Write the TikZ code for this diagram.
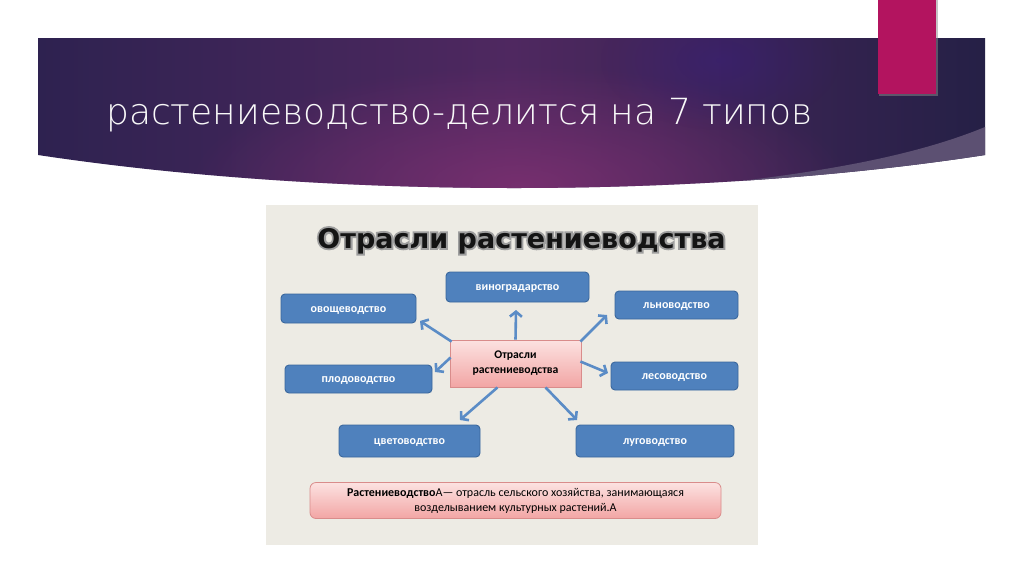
\documentclass[tikz,border=0pt]{standalone}
\usepackage{fontspec}
\setmainfont{Carlito}
\newfontfamily\titlefont{DejaVu Sans ExtraLight}
\newfontfamily\headfont{DejaVu Sans Bold}
\newfontfamily\headglow{DejaVu Sans Bold}[FakeBold=14]
\usetikzlibrary{arrows.meta,fadings,calc}
\tikzfading[name=glowfade, inner color=transparent!0, outer color=transparent!100]
\definecolor{boxblue}{HTML}{4F81BD}
\definecolor{boxborder}{HTML}{3A679C}
\definecolor{arrowblue}{HTML}{5B8CC6}
\definecolor{bgpic}{HTML}{EDEBE4}
\definecolor{bannerL}{HTML}{2E2250}
\definecolor{bannerM}{HTML}{4F2860}
\definecolor{bannerR}{HTML}{252046}
\definecolor{glow}{HTML}{7A3070}
\definecolor{bandc}{HTML}{5C5072}
\definecolor{magbar}{HTML}{B3145F}
\definecolor{pinktop}{HTML}{FCE2E1}
\definecolor{pinkbot}{HTML}{F2A5A4}
\definecolor{pinkborder}{HTML}{D98C8B}
\tikzset{
  bbox/.style={draw=boxborder, line width=0.9pt, fill=boxblue, rounded corners=4pt,
    text=white, font=\bfseries\fontsize{12}{14}\selectfont, inner sep=0pt,
    text height=7.6pt, text depth=0pt},
  pinkbox/.style={draw=pinkborder, line width=0.8pt, top color=pinktop, bottom color=pinkbot,
    inner sep=0pt, align=center},
  arr/.style={draw=arrowblue, line width=2.6pt, -{Straight Barb[length=5pt,width=12pt]}},
}
\begin{document}
\begin{tikzpicture}[x=1pt,y=-1pt]
\useasboundingbox (0,0) rectangle (1024,574);
\fill[white] (0,0) rectangle (1024,574);
% banner
\begin{scope}
\clip (38,38) -- (985,38) -- (985,155) .. controls (700,199) and (330,199) .. (38,155) -- cycle;
\shade[left color=bannerL, right color=bannerR, middle color=bannerM] (38,38) rectangle (985,200);
\fill[glow, path fading=glowfade, opacity=0.9] (520,185) ellipse (330 and 120);
\fill[bannerM!70!blue, path fading=glowfade, opacity=0.35] (720,60) ellipse (120 and 70);
\fill[bandc] (985,127) .. controls (900,162) and (780,180) .. (600,195) -- (985,200) -- cycle;
\end{scope}
% magenta bar
\fill[black!45, opacity=0.5] (879,0) rectangle (937.5,95.5);
\fill[magbar] (878,0) rectangle (936,94);
% title
\node[anchor=base west, inner sep=0pt, text=white!95!gray, font=\titlefont\fontsize{36}{40}\selectfont]
  (title) at (106,124) {растениеводство-делится на 7 типов};
% picture background
\fill[bgpic] (266,205) rectangle (758,545);
% heading with glow
\node[anchor=base, inner sep=0pt, text=black!38, font=\headglow\fontsize{27}{30}\selectfont]
  (headglow) at (521.5,248) {Отрасли растениеводства};
\node[anchor=base, inner sep=0pt, text=black!92, font=\headfont\fontsize{27}{30}\selectfont]
  (head) at (521.5,248) {Отрасли растениеводства};
% boxes
\node[bbox, minimum width=143pt, minimum height=30pt] (vi) at (517.5,287) {виноградарство};
\node[bbox, minimum width=135pt, minimum height=29pt] (ov) at (348.5,308.5) {овощеводство};
\node[bbox, minimum width=123pt, minimum height=28pt] (ln) at (676.5,305) {льноводство};
\node[bbox, minimum width=147pt, minimum height=28pt] (pl) at (358.5,379) {плодоводство};
\node[bbox, minimum width=127pt, minimum height=28pt] (le) at (674.5,376) {лесоводство};
\node[bbox, minimum width=141pt, minimum height=32pt] (cv) at (409.5,441) {цветоводство};
\node[bbox, minimum width=158pt, minimum height=32pt] (lu) at (655,441) {луговодство};
\node[pinkbox, minimum width=131pt, minimum height=47pt,
  font=\bfseries\fontsize{11.7}{15}\selectfont] (c) at (515.5,363.5) {Отрасли\\растениеводства};
\node[pinkbox, rounded corners=6pt, minimum width=411pt, minimum height=36pt,
  font=\fontsize{12}{15}\selectfont] (def) at (515.5,500.5)
  {\textbf{Растениеводство}А— отрасль сельского хозяйства, занимающаяся\\возделыванием культурных растений.А};
% arrow tips
\coordinate (t1) at (420,321);
\coordinate (t2) at (516,310);
\coordinate (t3) at (607,315);
\coordinate (t4) at (435,372);
\coordinate (t5) at (608,373);
\coordinate (t6) at (460,420);
\coordinate (t7) at (577,420);
\draw[arr] ($(c.north west)+(2,2)$) -- (t1);
\draw[arr] (c.north) -- (t2);
\draw[arr] ($(c.north east)+(-1,2)$) -- (t3);
\draw[arr] ($(c.west)+(1,-6)$) -- (t4);
\draw[arr] ($(c.east)+(-1,-2)$) -- (t5);
\draw[arr] ($(c.south)+(-18,0)$) -- (t6);
\draw[arr] ($(c.south)+(30,0)$) -- (t7);
\end{tikzpicture}
\end{document}
